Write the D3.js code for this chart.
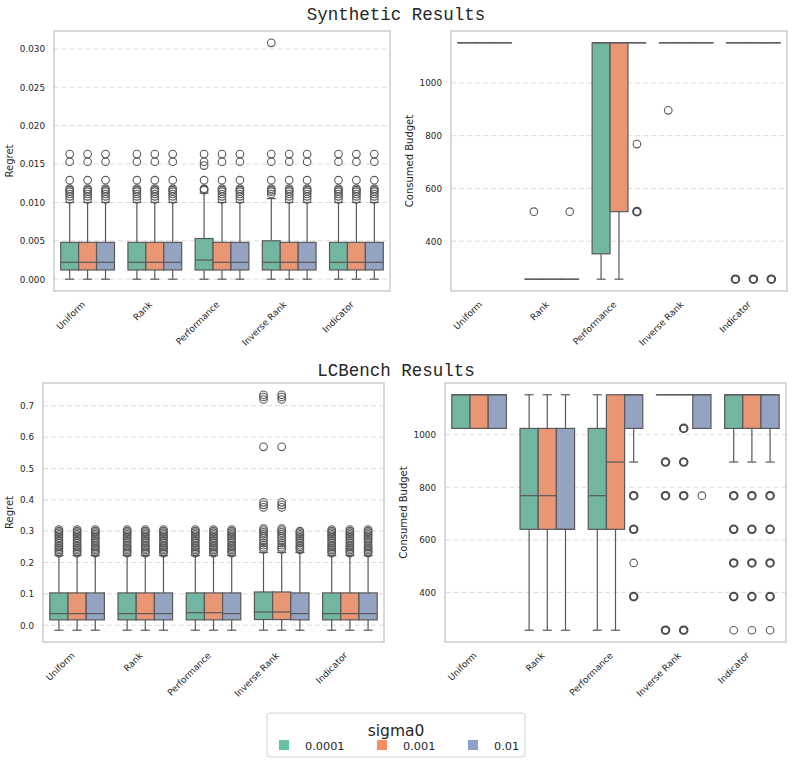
<!DOCTYPE html>
<html>
<head>
<meta charset="utf-8">
<script src="https://cdn.jsdelivr.net/npm/d3@7"></script>
<style>
  body { margin: 0; background: #fff; }
  text { font-family: "DejaVu Sans", sans-serif; fill: #262626; }
</style>
</head>
<body>
<svg id="mainSvg" width="793" height="764"></svg>
<script>
// categories
const methods = ["Uniform", "Rank", "Performance", "Inverse Rank", "Indicator"];
const sigmas = ["0.0001", "0.001", "0.01"];
const legendColors = ["#66c2a5", "#fc8d62", "#8da0cb"];
const boxColors = ["#72b6a1", "#e99675", "#95a3c3"];

// box rows: method, sigma, whisker low, q1, median, q3, whisker high
const synthRegretBoxes = [
    ["Uniform", "0.0001", 0, 0.0012, 0.0022, 0.0048, 0.0100],
    ["Uniform", "0.001", 0, 0.0012, 0.0022, 0.0048, 0.0100],
    ["Uniform", "0.01", 0, 0.0012, 0.0022, 0.0048, 0.0100],
    ["Rank", "0.0001", 0, 0.0012, 0.0022, 0.0048, 0.0100],
    ["Rank", "0.001", 0, 0.0012, 0.0022, 0.0048, 0.0100],
    ["Rank", "0.01", 0, 0.0012, 0.0022, 0.0048, 0.0100],
    ["Performance", "0.0001", 0, 0.0012, 0.0025, 0.0053, 0.0112],
    ["Performance", "0.001", 0, 0.0012, 0.0022, 0.0048, 0.0100],
    ["Performance", "0.01", 0, 0.0012, 0.0022, 0.0048, 0.0100],
    ["Inverse Rank", "0.0001", 0, 0.0012, 0.0022, 0.0050, 0.0105],
    ["Inverse Rank", "0.001", 0, 0.0012, 0.0022, 0.0048, 0.0100],
    ["Inverse Rank", "0.01", 0, 0.0012, 0.0022, 0.0048, 0.0100],
    ["Indicator", "0.0001", 0, 0.0012, 0.0022, 0.0048, 0.0100],
    ["Indicator", "0.001", 0, 0.0012, 0.0022, 0.0048, 0.0100],
    ["Indicator", "0.01", 0, 0.0012, 0.0022, 0.0048, 0.0100]
];
const synthCluster = [0.0163, 0.0153, 0.0129, 0.0118, 0.0116, 0.0114, 0.0111, 0.0108, 0.0104];
const synthRegretFliers = [
    ["Uniform", "0.0001", synthCluster], ["Uniform", "0.001", synthCluster], ["Uniform", "0.01", synthCluster],
    ["Rank", "0.0001", synthCluster], ["Rank", "0.001", synthCluster], ["Rank", "0.01", synthCluster],
    ["Performance", "0.0001", [0.0163, 0.0153, 0.0148, 0.0129, 0.0118, 0.0117, 0.0116]],
    ["Performance", "0.001", synthCluster], ["Performance", "0.01", synthCluster],
    ["Inverse Rank", "0.0001", [0.0308, 0.0163, 0.0153, 0.0129, 0.0118, 0.0116, 0.0114, 0.0111]],
    ["Inverse Rank", "0.001", synthCluster], ["Inverse Rank", "0.01", synthCluster],
    ["Indicator", "0.0001", synthCluster], ["Indicator", "0.001", synthCluster], ["Indicator", "0.01", synthCluster]
];

const synthBudgetBoxes = [
    ["Uniform", "0.0001", 1152, 1152, 1152, 1152, 1152],
    ["Uniform", "0.001", 1152, 1152, 1152, 1152, 1152],
    ["Uniform", "0.01", 1152, 1152, 1152, 1152, 1152],
    ["Rank", "0.0001", 256, 256, 256, 256, 256],
    ["Rank", "0.001", 256, 256, 256, 256, 256],
    ["Rank", "0.01", 256, 256, 256, 256, 256],
    ["Performance", "0.0001", 256, 352, 1152, 1152, 1152],
    ["Performance", "0.001", 256, 512, 1152, 1152, 1152],
    ["Performance", "0.01", 1152, 1152, 1152, 1152, 1152],
    ["Inverse Rank", "0.0001", 1152, 1152, 1152, 1152, 1152],
    ["Inverse Rank", "0.001", 1152, 1152, 1152, 1152, 1152],
    ["Inverse Rank", "0.01", 1152, 1152, 1152, 1152, 1152],
    ["Indicator", "0.0001", 1152, 1152, 1152, 1152, 1152],
    ["Indicator", "0.001", 1152, 1152, 1152, 1152, 1152],
    ["Indicator", "0.01", 1152, 1152, 1152, 1152, 1152]
];
const synthBudgetFliers = [
    ["Rank", "0.0001", [512]],
    ["Rank", "0.01", [512]],
    ["Performance", "0.01", [768, 512, 512, 512]],
    ["Inverse Rank", "0.0001", [896]],
    ["Indicator", "0.0001", [256, 256, 256]],
    ["Indicator", "0.001", [256, 256, 256]],
    ["Indicator", "0.01", [256, 256, 256]]
];

const lcRegretBoxes = [
    ["Uniform", "0.0001", -0.016, 0.017, 0.037, 0.103, 0.222],
    ["Uniform", "0.001", -0.016, 0.017, 0.037, 0.103, 0.222],
    ["Uniform", "0.01", -0.016, 0.017, 0.037, 0.103, 0.222],
    ["Rank", "0.0001", -0.016, 0.017, 0.037, 0.103, 0.222],
    ["Rank", "0.001", -0.016, 0.017, 0.037, 0.103, 0.222],
    ["Rank", "0.01", -0.016, 0.017, 0.037, 0.103, 0.222],
    ["Performance", "0.0001", -0.016, 0.017, 0.040, 0.103, 0.222],
    ["Performance", "0.001", -0.016, 0.017, 0.040, 0.103, 0.222],
    ["Performance", "0.01", -0.016, 0.017, 0.037, 0.103, 0.222],
    ["Inverse Rank", "0.0001", -0.016, 0.018, 0.042, 0.106, 0.232],
    ["Inverse Rank", "0.001", -0.016, 0.018, 0.042, 0.106, 0.232],
    ["Inverse Rank", "0.01", -0.016, 0.017, 0.037, 0.103, 0.232],
    ["Indicator", "0.0001", -0.016, 0.017, 0.037, 0.103, 0.222],
    ["Indicator", "0.001", -0.016, 0.017, 0.037, 0.103, 0.222],
    ["Indicator", "0.01", -0.016, 0.017, 0.037, 0.103, 0.222]
];
const lcCluster = [0.305, 0.300, 0.295, 0.290, 0.285, 0.280, 0.275, 0.268, 0.262, 0.255, 0.250, 0.245, 0.240, 0.235, 0.230];
const lcInvCluster = [0.735, 0.728, 0.720, 0.569, 0.392, 0.384, 0.376, 0.308, 0.302, 0.296, 0.290, 0.284, 0.278, 0.270, 0.262, 0.255, 0.248, 0.242];
const lcRegretFliers = [
    ["Uniform", "0.0001", lcCluster], ["Uniform", "0.001", lcCluster], ["Uniform", "0.01", lcCluster],
    ["Rank", "0.0001", lcCluster], ["Rank", "0.001", lcCluster], ["Rank", "0.01", lcCluster],
    ["Performance", "0.0001", lcCluster], ["Performance", "0.001", lcCluster], ["Performance", "0.01", lcCluster],
    ["Inverse Rank", "0.0001", lcInvCluster], ["Inverse Rank", "0.001", lcInvCluster],
    ["Inverse Rank", "0.01", [0.300, 0.295, 0.290, 0.285, 0.280, 0.275, 0.268, 0.262, 0.255, 0.250, 0.245, 0.240]],
    ["Indicator", "0.0001", lcCluster], ["Indicator", "0.001", lcCluster], ["Indicator", "0.01", lcCluster]
];

const lcBudgetBoxes = [
    ["Uniform", "0.0001", 1024, 1024, 1152, 1152, 1152],
    ["Uniform", "0.001", 1024, 1024, 1152, 1152, 1152],
    ["Uniform", "0.01", 1024, 1024, 1152, 1152, 1152],
    ["Rank", "0.0001", 256, 640, 768, 1024, 1152],
    ["Rank", "0.001", 256, 640, 768, 1024, 1152],
    ["Rank", "0.01", 256, 640, 640, 1024, 1152],
    ["Performance", "0.0001", 256, 640, 768, 1024, 1152],
    ["Performance", "0.001", 256, 640, 896, 1152, 1152],
    ["Performance", "0.01", 896, 1024, 1152, 1152, 1152],
    ["Inverse Rank", "0.0001", 1152, 1152, 1152, 1152, 1152],
    ["Inverse Rank", "0.001", 1152, 1152, 1152, 1152, 1152],
    ["Inverse Rank", "0.01", 1024, 1024, 1152, 1152, 1152],
    ["Indicator", "0.0001", 896, 1024, 1152, 1152, 1152],
    ["Indicator", "0.001", 896, 1024, 1152, 1152, 1152],
    ["Indicator", "0.01", 896, 1024, 1152, 1152, 1152]
];
const lcBudgetFliers = [
    ["Performance", "0.01", [768, 768, 640, 640, 512, 384, 384]],
    ["Inverse Rank", "0.0001", [896, 896, 768, 768, 256, 256]],
    ["Inverse Rank", "0.001", [1024, 1024, 896, 896, 768, 768, 256, 256]],
    ["Inverse Rank", "0.01", [768]],
    ["Indicator", "0.0001", [768, 768, 640, 640, 512, 512, 384, 384, 256]],
    ["Indicator", "0.001", [768, 768, 640, 640, 512, 512, 384, 384, 256]],
    ["Indicator", "0.01", [768, 768, 640, 640, 512, 512, 384, 384, 256]]
];

const regretTicksSynth = [0, 0.005, 0.01, 0.015, 0.02, 0.025, 0.03];
const regretTicksLC = [0, 0.1, 0.2, 0.3, 0.4, 0.5, 0.6, 0.7];
const budgetTicks = [400, 600, 800, 1000];

const lineColor = "#595959";

function drawPanel(canvas, opts) {
    let g = canvas.append("g");
    let x = d3.scaleBand().domain(methods).range([opts.x0, opts.x1]).paddingInner(0.2).paddingOuter(0.1);
    let xs = d3.scaleBand().domain(sigmas).range([0, x.bandwidth()]);
    let y = d3.scaleLinear().domain(opts.domain).range([opts.y1, opts.y0]);

    // grid
    g.selectAll(".grid").data(opts.ticks).enter()
        .append("line")
        .attr("x1", opts.x0).attr("x2", opts.x1)
        .attr("y1", d => y(d)).attr("y2", d => y(d))
        .attr("stroke", "#dcdcdc").attr("stroke-width", 1)
        .attr("stroke-dasharray", "5,3");

    // y axis
    let yAxis = d3.axisLeft(y).tickValues(opts.ticks).tickSize(0).tickPadding(9).tickFormat(d3.format(opts.fmt));
    let ya = g.append("g").attr("transform", `translate(${opts.x0},0)`).call(yAxis);
    ya.select(".domain").remove();
    ya.selectAll("text").style("font-size", "8.8px").style("font-family", "DejaVu Sans").attr("fill", "#262626");

    // x axis
    let xAxis = d3.axisBottom(x).tickSize(0).tickPadding(0);
    let xa = g.append("g").attr("transform", `translate(0,${opts.y1})`).call(xAxis);
    xa.select(".domain").remove();
    xa.selectAll("text")
        .style("font-size", "9px").style("font-family", "DejaVu Sans").attr("fill", "#262626")
        .attr("text-anchor", "end")
        .attr("y", 0)
        .attr("dy", "0")
        .attr("transform", "translate(-2,14) rotate(-45)");

    let cx = (m, s) => x(m) + xs(s) + xs.bandwidth() / 2;
    let bw = xs.bandwidth();

    // whiskers
    let boxes = opts.boxes.map(d => ({m: d[0], s: d[1], lo: d[2], q1: d[3], med: d[4], q3: d[5], hi: d[6]}));
    let wg = g.append("g").attr("stroke", lineColor).attr("stroke-width", 1.2);
    boxes.forEach(b => {
        let c = cx(b.m, b.s);
        if (b.lo < b.q1) {
            wg.append("line").attr("x1", c).attr("x2", c).attr("y1", y(b.lo)).attr("y2", y(b.q1));
            wg.append("line").attr("x1", c - bw / 4).attr("x2", c + bw / 4).attr("y1", y(b.lo)).attr("y2", y(b.lo));
        }
        if (b.hi > b.q3) {
            wg.append("line").attr("x1", c).attr("x2", c).attr("y1", y(b.hi)).attr("y2", y(b.q3));
            wg.append("line").attr("x1", c - bw / 4).attr("x2", c + bw / 4).attr("y1", y(b.hi)).attr("y2", y(b.hi));
        }
    });

    // boxes
    g.selectAll(".box").data(boxes).enter()
        .append("rect")
        .attr("x", d => x(d.m) + xs(d.s))
        .attr("width", bw)
        .attr("y", d => y(d.q3))
        .attr("height", d => Math.max(0.01, y(d.q1) - y(d.q3)))
        .attr("fill", d => boxColors[sigmas.indexOf(d.s)])
        .attr("stroke", lineColor)
        .attr("stroke-width", 1.2);

    g.selectAll(".med").data(boxes).enter()
        .append("line")
        .attr("x1", d => x(d.m) + xs(d.s))
        .attr("x2", d => x(d.m) + xs(d.s) + bw)
        .attr("y1", d => y(d.med)).attr("y2", d => y(d.med))
        .attr("stroke", lineColor).attr("stroke-width", 1.2);

    // outliers, repeated values drawn heavier
    let fl = [];
    opts.fliers.forEach(f => {
        let counts = d3.rollup(f[2], v => v.length, v => v);
        counts.forEach((n, v) => fl.push({m: f[0], s: f[1], v: v, n: n}));
    });
    g.selectAll(".flier").data(fl).enter()
        .append("circle")
        .attr("cx", d => cx(d.m, d.s))
        .attr("cy", d => y(d.v))
        .attr("r", 3.8)
        .attr("fill", "none")
        .attr("stroke", d => d.n > 1 ? "#4a4a4a" : lineColor)
        .attr("stroke-width", d => d.n > 1 ? 2 : 1.1);

    // frame
    g.append("rect")
        .attr("x", opts.x0).attr("y", opts.y0)
        .attr("width", opts.x1 - opts.x0).attr("height", opts.y1 - opts.y0)
        .attr("fill", "none").attr("stroke", "#cccccc").attr("stroke-width", 1.5);

    // y label
    g.append("text")
        .attr("transform", `translate(${opts.labelX},${(opts.y0 + opts.y1) / 2}) rotate(-90)`)
        .attr("text-anchor", "middle")
        .style("font-size", "10px")
        .text(opts.label);
}

function initMainSvg() {
    let canvas = d3.select("#mainSvg");

    canvas.append("text").attr("x", 396).attr("y", 20).attr("text-anchor", "middle")
        .style("font-family", "Liberation Mono, monospace").style("font-size", "17.5px")
        .text("Synthetic Results");
    canvas.append("text").attr("x", 396).attr("y", 376).attr("text-anchor", "middle")
        .style("font-family", "Liberation Mono, monospace").style("font-size", "17.5px")
        .text("LCBench Results");

    drawPanel(canvas, {x0: 54, x1: 390, y0: 31, y1: 291, domain: [-0.00154, 0.03234],
        ticks: regretTicksSynth, fmt: ".3f", boxes: synthRegretBoxes, fliers: synthRegretFliers,
        label: "Regret", labelX: 13});
    drawPanel(canvas, {x0: 451, x1: 787, y0: 31, y1: 291, domain: [211.2, 1196.8],
        ticks: budgetTicks, fmt: "d", boxes: synthBudgetBoxes, fliers: synthBudgetFliers,
        label: "Consumed Budget", labelX: 413});
    drawPanel(canvas, {x0: 43, x1: 384, y0: 383, y1: 642, domain: [-0.0536, 0.7726],
        ticks: regretTicksLC, fmt: ".1f", boxes: lcRegretBoxes, fliers: lcRegretFliers,
        label: "Regret", labelX: 13});
    drawPanel(canvas, {x0: 445, x1: 786, y0: 383, y1: 642, domain: [211.2, 1196.8],
        ticks: budgetTicks, fmt: "d", boxes: lcBudgetBoxes, fliers: lcBudgetFliers,
        label: "Consumed Budget", labelX: 407});

    // legend
    let lg = canvas.append("g");
    lg.append("rect").attr("x", 267).attr("y", 713).attr("width", 258).attr("height", 44)
        .attr("rx", 3).attr("fill", "#fff").attr("stroke", "#d0d0d0").attr("stroke-width", 1);
    lg.append("text").attr("x", 396).attr("y", 736).attr("text-anchor", "middle")
        .style("font-size", "15.5px").text("sigma0");
    let itemX = [279, 377, 468];
    sigmas.forEach((s, i) => {
        lg.append("rect").attr("x", itemX[i]).attr("y", 740).attr("width", 10).attr("height", 10)
            .attr("fill", legendColors[i]);
        lg.append("text").attr("x", itemX[i] + 26).attr("y", 750)
            .style("font-size", "11.3px").text(s);
    });
}

initMainSvg();
</script>
</body>
</html>
